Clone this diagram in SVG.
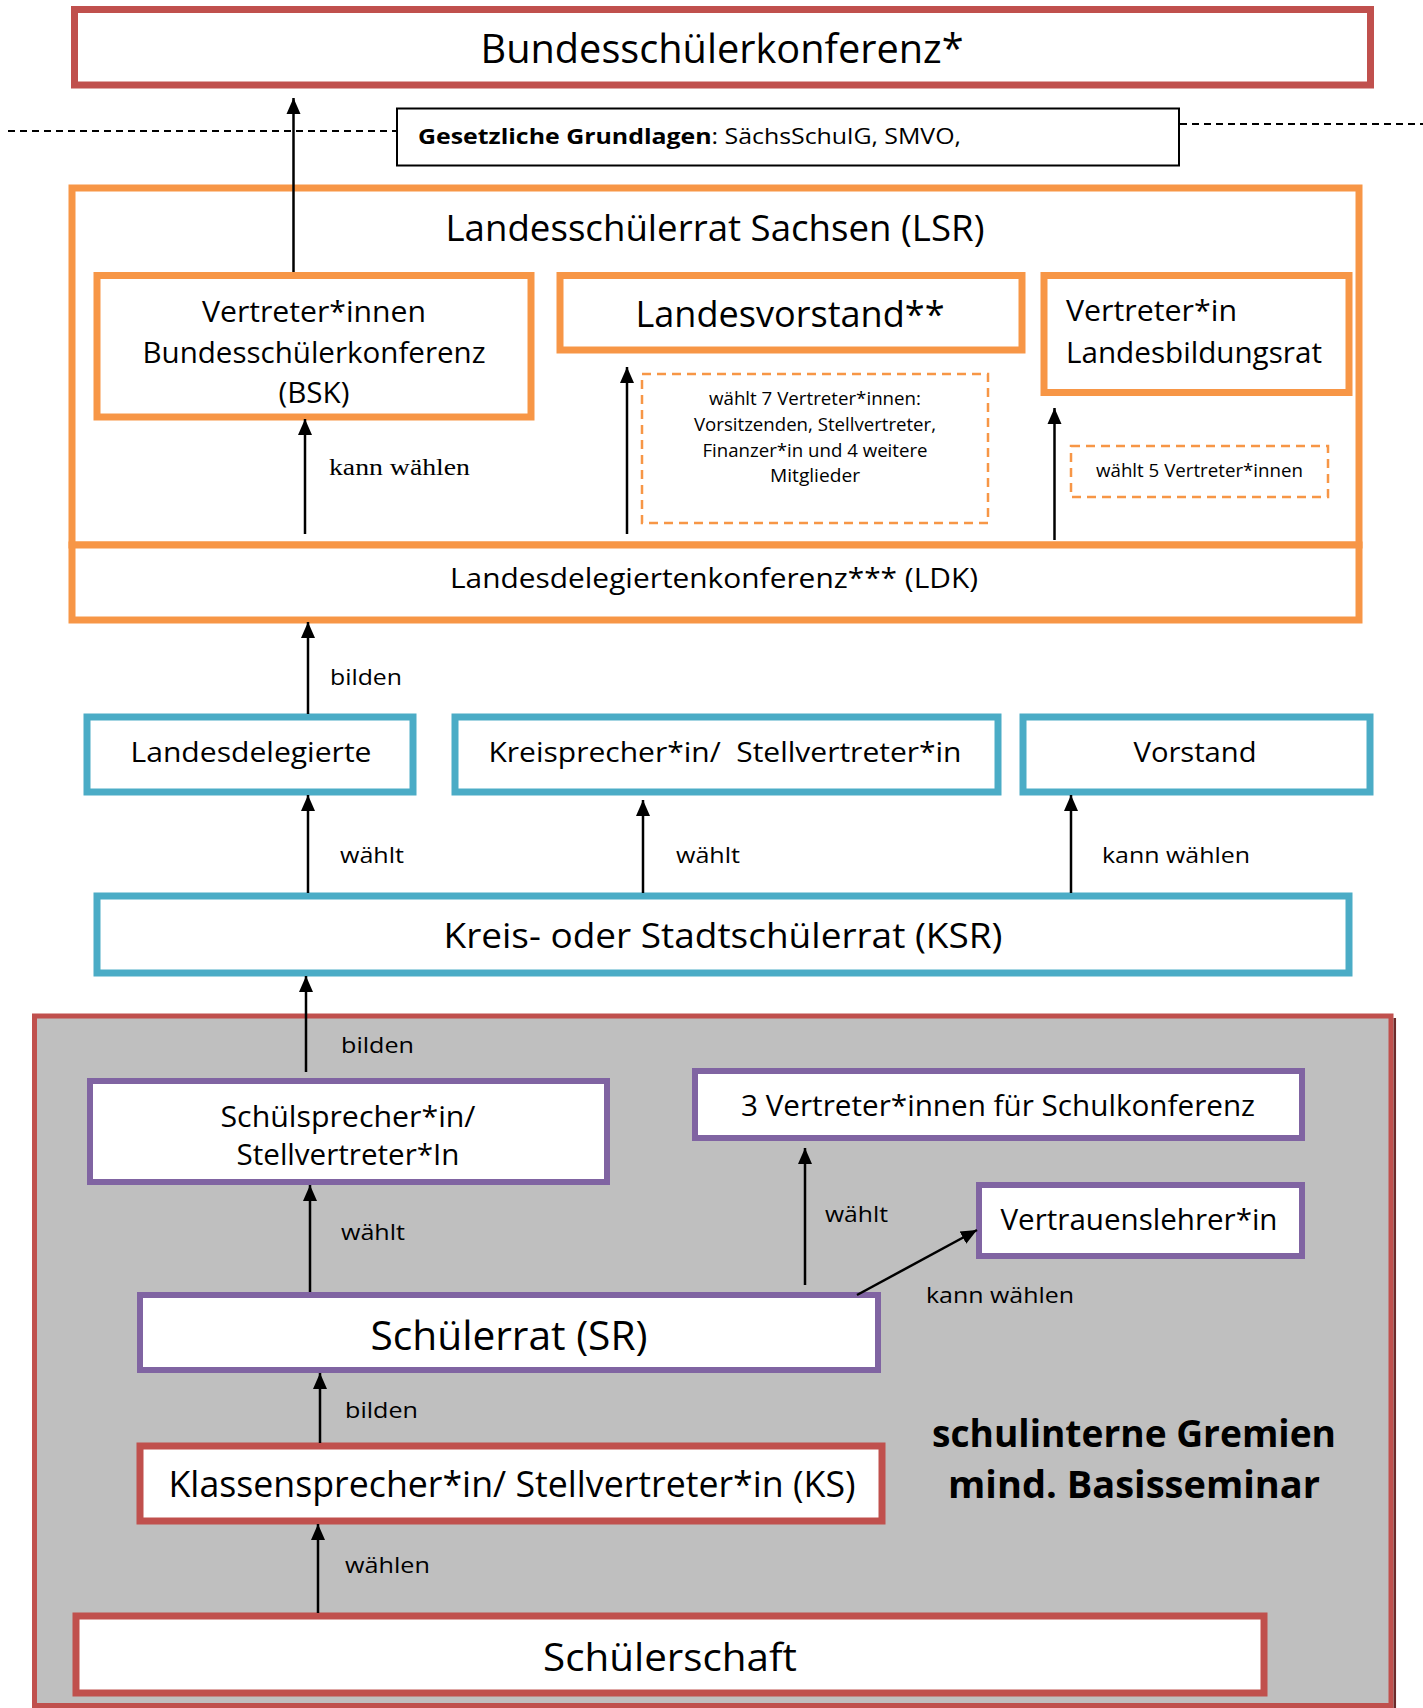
<svg xmlns="http://www.w3.org/2000/svg" width="1423" height="1708" viewBox="0 0 1423 1708">
<defs>
<marker id="ah" markerUnits="userSpaceOnUse" markerWidth="16" markerHeight="16" viewBox="0 0 16 16" refX="16" refY="8" orient="auto">
<path d="M0,1 L16,8 L0,15 Z" fill="#000"/>
</marker>
<style>
text{font-family:"Open Sans","Noto Sans","DejaVu Sans",sans-serif;fill:#000}
.red{fill:#fff;stroke:#c0504d;stroke-width:7}
.org{fill:#fff;stroke:#f79646;stroke-width:7}
.blu{fill:#fff;stroke:#4bacc6;stroke-width:7}
.pur{fill:#fff;stroke:#8064a2;stroke-width:6}
.dash{fill:none;stroke:#f79646;stroke-width:2.5;stroke-dasharray:9 6}
.c{text-anchor:middle}
.lbl{font-size:22px}
.arr{stroke:#000;stroke-width:2.5;fill:none;marker-end:url(#ah)}
</style>
</defs>

<g id="bsk">
<rect class="red" x="74.5" y="9.5" width="1296" height="75.5"/>
<text class="c" x="722" y="63" font-size="40" textLength="483" lengthAdjust="spacingAndGlyphs">Bundesschülerkonferenz*</text>
</g>

<g id="grundlagen">
<line x1="8" y1="131" x2="396" y2="131" stroke="#000" stroke-width="2" stroke-dasharray="7 5"/>
<line x1="1180" y1="124" x2="1423" y2="124" stroke="#000" stroke-width="2" stroke-dasharray="7 5"/>
<rect x="397" y="108.5" width="782" height="57" fill="#fff" stroke="#000" stroke-width="2"/>
<text x="418" y="144" font-size="22" textLength="543" lengthAdjust="spacingAndGlyphs"><tspan font-weight="bold">Gesetzliche Grundlagen</tspan>: SächsSchulG, SMVO,</text>
</g>

<g id="lsr">
<rect class="org" x="72" y="188" width="1287" height="357"/>
<text class="c" x="715" y="241" font-size="36" textLength="539" lengthAdjust="spacingAndGlyphs">Landesschülerrat Sachsen (LSR)</text>
</g>

<g id="ldk">
<rect class="org" x="72" y="545" width="1287" height="75"/>
<text class="c" x="714" y="588" font-size="28" textLength="528" lengthAdjust="spacingAndGlyphs">Landesdelegiertenkonferenz*** (LDK)</text>
</g>

<g id="vertreter-bsk">
<rect class="org" x="97" y="275.5" width="434" height="141.5"/>
<text class="c" x="314" y="322" font-size="30" textLength="224" lengthAdjust="spacingAndGlyphs">Vertreter*innen</text>
<text class="c" x="314" y="363" font-size="30" textLength="343" lengthAdjust="spacingAndGlyphs">Bundesschülerkonferenz</text>
<text class="c" x="314" y="403" font-size="30" textLength="71" lengthAdjust="spacingAndGlyphs">(BSK)</text>
</g>

<g id="landesvorstand">
<rect class="org" x="560" y="275.5" width="462" height="74.5"/>
<text class="c" x="790" y="327" font-size="36" textLength="309" lengthAdjust="spacingAndGlyphs">Landesvorstand**</text>
</g>

<g id="landesbildungsrat">
<rect class="org" x="1044" y="275.5" width="305" height="117"/>
<text x="1066" y="321" font-size="30" textLength="171" lengthAdjust="spacingAndGlyphs">Vertreter*in</text>
<text x="1066" y="363" font-size="30" textLength="256" lengthAdjust="spacingAndGlyphs">Landesbildungsrat</text>
</g>

<g id="note-vorstand">
<rect class="dash" x="642" y="374" width="346" height="149"/>
<text class="c" x="815" y="405" font-size="18" textLength="212" lengthAdjust="spacingAndGlyphs">wählt 7 Vertreter*innen:</text>
<text class="c" x="815" y="431" font-size="18" textLength="242" lengthAdjust="spacingAndGlyphs">Vorsitzenden, Stellvertreter,</text>
<text class="c" x="815" y="457" font-size="18" textLength="225" lengthAdjust="spacingAndGlyphs">Finanzer*in und 4 weitere</text>
<text class="c" x="815" y="482" font-size="18" textLength="90" lengthAdjust="spacingAndGlyphs">Mitglieder</text>
</g>

<g id="note-lbr">
<rect class="dash" x="1071" y="446" width="257" height="51"/>
<text class="c" x="1199.5" y="477" font-size="18" textLength="207" lengthAdjust="spacingAndGlyphs">wählt 5 Vertreter*innen</text>
</g>

<g id="landesdelegierte">
<rect class="blu" x="87" y="717" width="326" height="75"/>
<text class="c" x="251" y="762" font-size="28" textLength="241" lengthAdjust="spacingAndGlyphs">Landesdelegierte</text>
</g>

<g id="kreissprecher">
<rect class="blu" x="455" y="717" width="543" height="75"/>
<text class="c" x="725" y="762" font-size="28" textLength="473" lengthAdjust="spacingAndGlyphs" xml:space="preserve">Kreisprecher*in/  Stellvertreter*in</text>
</g>

<g id="vorstand">
<rect class="blu" x="1023" y="717" width="347" height="75"/>
<text class="c" x="1195" y="762" font-size="28" textLength="123" lengthAdjust="spacingAndGlyphs">Vorstand</text>
</g>

<g id="ksr">
<rect class="blu" x="97" y="896" width="1252" height="77"/>
<text class="c" x="723" y="948" font-size="35" textLength="559" lengthAdjust="spacingAndGlyphs">Kreis- oder Stadtschülerrat (KSR)</text>
</g>

<g id="schulintern">
<rect x="34.5" y="1016" width="1356.5" height="689.5" fill="#bfbfbf" stroke="#c0504d" stroke-width="5"/>
<line x1="1394.8" y1="1018" x2="1394.8" y2="1708" stroke="#6b2b2b" stroke-width="2.5"/>
<text class="c" x="1134" y="1447" font-size="38" font-weight="bold" textLength="404" lengthAdjust="spacingAndGlyphs">schulinterne Gremien</text>
<text class="c" x="1134" y="1498" font-size="38" font-weight="bold" textLength="372" lengthAdjust="spacingAndGlyphs">mind. Basisseminar</text>
</g>

<g id="schulsprecher">
<rect class="pur" x="90" y="1081" width="517" height="101"/>
<text class="c" x="348" y="1127" font-size="30" textLength="255" lengthAdjust="spacingAndGlyphs">Schülsprecher*in/</text>
<text class="c" x="348" y="1165" font-size="30" textLength="223" lengthAdjust="spacingAndGlyphs">Stellvertreter*In</text>
</g>

<g id="schulkonferenz">
<rect class="pur" x="695" y="1071" width="607" height="67"/>
<text class="c" x="998" y="1116" font-size="29" textLength="514" lengthAdjust="spacingAndGlyphs">3 Vertreter*innen für Schulkonferenz</text>
</g>

<g id="vertrauenslehrer">
<rect class="pur" x="979" y="1185" width="323" height="71"/>
<text class="c" x="1139" y="1230" font-size="30" textLength="277" lengthAdjust="spacingAndGlyphs">Vertrauenslehrer*in</text>
</g>

<g id="schuelerrat">
<rect class="pur" x="140" y="1295" width="738" height="75"/>
<text class="c" x="509" y="1350" font-size="40" textLength="277" lengthAdjust="spacingAndGlyphs">Schülerrat (SR)</text>
</g>

<g id="klassensprecher">
<rect class="red" x="140" y="1446" width="742" height="75"/>
<text class="c" x="512" y="1497" font-size="36" textLength="687" lengthAdjust="spacingAndGlyphs">Klassensprecher*in/ Stellvertreter*in (KS)</text>
</g>

<g id="schuelerschaft">
<rect class="red" x="76" y="1616" width="1188" height="77"/>
<text class="c" x="670" y="1671" font-size="38" textLength="254" lengthAdjust="spacingAndGlyphs">Schülerschaft</text>
</g>

<g id="connectors">
<line class="arr" x1="293.5" y1="272" x2="293.5" y2="98"/>
<line class="arr" x1="305" y1="534" x2="305" y2="419"/>
<line class="arr" x1="627" y1="534" x2="627" y2="367"/>
<line class="arr" x1="1054.5" y1="540" x2="1054.5" y2="408"/>
<line class="arr" x1="308" y1="714" x2="308" y2="622"/>
<line class="arr" x1="308" y1="893" x2="308" y2="795"/>
<line class="arr" x1="643" y1="893" x2="643" y2="800"/>
<line class="arr" x1="1071" y1="893" x2="1071" y2="795"/>
<line class="arr" x1="306" y1="1072" x2="306" y2="976"/>
<line class="arr" x1="310" y1="1292" x2="310" y2="1185"/>
<line class="arr" x1="805" y1="1285" x2="805" y2="1148"/>
<line class="arr" x1="857" y1="1295" x2="977" y2="1230"/>
<line class="arr" x1="320" y1="1443" x2="320" y2="1373"/>
<line class="arr" x1="318" y1="1613" x2="318" y2="1524"/>
<text x="329" y="475" font-size="24" textLength="141" lengthAdjust="spacingAndGlyphs" style="font-family:'Liberation Serif',serif">kann wählen</text>
<text class="lbl" x="330" y="685" textLength="72" lengthAdjust="spacingAndGlyphs">bilden</text>
<text class="lbl" x="340" y="863" textLength="64" lengthAdjust="spacingAndGlyphs">wählt</text>
<text class="lbl" x="676" y="863" textLength="64" lengthAdjust="spacingAndGlyphs">wählt</text>
<text class="lbl" x="1102" y="863" textLength="148" lengthAdjust="spacingAndGlyphs">kann wählen</text>
<text class="lbl" x="341" y="1053" textLength="73" lengthAdjust="spacingAndGlyphs">bilden</text>
<text class="lbl" x="341" y="1240" textLength="64" lengthAdjust="spacingAndGlyphs">wählt</text>
<text class="lbl" x="825" y="1222" textLength="63" lengthAdjust="spacingAndGlyphs">wählt</text>
<text class="lbl" x="926" y="1303" textLength="148" lengthAdjust="spacingAndGlyphs">kann wählen</text>
<text class="lbl" x="345" y="1418" textLength="73" lengthAdjust="spacingAndGlyphs">bilden</text>
<text class="lbl" x="345" y="1573" textLength="85" lengthAdjust="spacingAndGlyphs">wählen</text>
</g>
</svg>
